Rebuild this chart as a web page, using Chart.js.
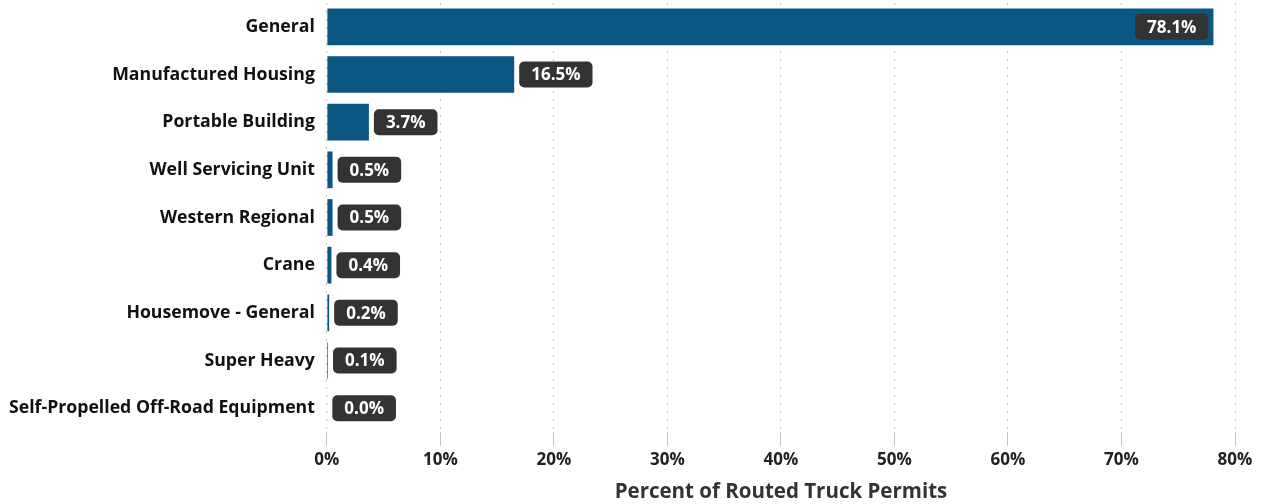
<!DOCTYPE html>
<html>
<head>
<meta charset="utf-8">
<script src="https://cdn.jsdelivr.net/npm/chart.js@4"></script>
<style>
    html, body { margin: 0; padding: 0; background: #fff; }
    #wrap { width: 1263px; height: 504px; position: relative; }
</style>
</head>
<body>
<div id="wrap"><canvas id="myChart"></canvas></div>
<script>
const categories = [
    'General',
    'Manufactured Housing',
    'Portable Building',
    'Well Servicing Unit',
    'Western Regional',
    'Crane',
    'Housemove - General',
    'Super Heavy',
    'Self-Propelled Off-Road Equipment'
];
const permitShare = [78.1, 16.5, 3.7, 0.5, 0.5, 0.4, 0.2, 0.1, 0.04];
const xTicks = [0, 10, 20, 30, 40, 50, 60, 70, 80];

const FONT = "'Open Sans', 'Noto Sans', sans-serif";

// dark rounded boxes at the end of each bar
const barLabels = {
    id: 'barLabels',
    afterDatasetsDraw(chart) {
        const ctx = chart.ctx;
        const area = chart.chartArea;
        const meta = chart.getDatasetMeta(0);
        ctx.save();
        ctx.font = `bold 17px ${FONT}`;
        ctx.textBaseline = 'middle';
        meta.data.forEach((bar, i) => {
            const txt = permitShare[i].toFixed(1) + '%';
            const w = ctx.measureText(txt).width + 24;
            const h = 26;
            let left = bar.x + 5;
            if (left + w > area.right) left = bar.x - 5 - w;
            ctx.fillStyle = '#333333';
            ctx.beginPath();
            ctx.roundRect(left, bar.y - h / 2, w, h, 5);
            ctx.fill();
            ctx.fillStyle = '#ffffff';
            ctx.textAlign = 'center';
            ctx.fillText(txt, left + w / 2, bar.y + 1);
        });
        ctx.restore();
    }
};

window.onload = () => {
    const ctx = document.getElementById('myChart');
    new Chart(ctx, {
        type: 'bar',
        data: {
            labels: categories,
            datasets: [{
                data: permitShare,
                backgroundColor: '#0b5783',
                barPercentage: 0.77,
                categoryPercentage: 1
            }]
        },
        options: {
            indexAxis: 'y',
            responsive: true,
            maintainAspectRatio: false,
            animation: false,
            devicePixelRatio: 1,
            layout: { padding: { top: 3, right: 28, left: 5, bottom: 0 } },
            plugins: {
                legend: { display: false },
                tooltip: { enabled: false }
            },
            scales: {
                x: {
                    min: 0,
                    max: 80,
                    afterBuildTicks: (axis) => { axis.ticks = xTicks.map(v => ({ value: v })); },
                    ticks: {
                        callback: (v) => v + '%',
                        font: { family: FONT, size: 17, weight: 'bold' },
                        color: '#222',
                        padding: 4,
                        maxRotation: 0
                    },
                    grid: {
                        color: '#c4c4c4',
                        tickLength: 14,
                        lineWidth: 1
                    },
                    border: { display: false, dash: [2, 6] },
                    title: {
                        display: true,
                        text: 'Percent of Routed Truck Permits',
                        font: { family: FONT, size: 20.5, weight: 'bold' },
                        color: '#333',
                        padding: { top: 5, bottom: 0 }
                    }
                },
                y: {
                    afterFit: (axis) => { axis.paddingTop = 0; axis.paddingBottom = 0; },
                    ticks: {
                        font: { family: FONT, size: 17.7, weight: 'bold' },
                        color: '#111',
                        padding: 4
                    },
                    grid: { display: false },
                    border: { display: false }
                }
            }
        },
        plugins: [barLabels]
    });
};
</script>
</body>
</html>
